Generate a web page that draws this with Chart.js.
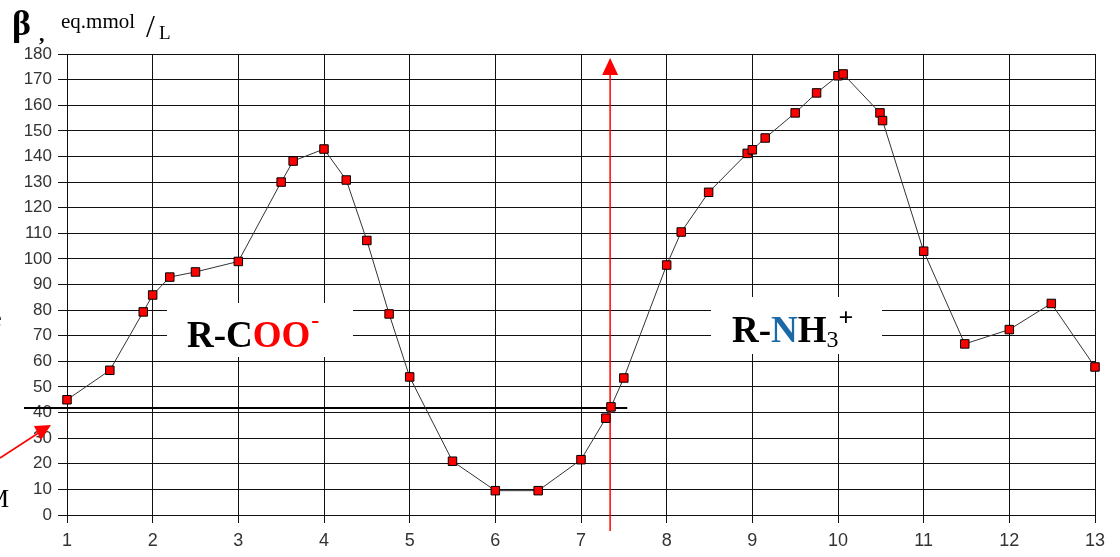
<!DOCTYPE html>
<html>
<head>
<meta charset="utf-8">
<script src="https://cdn.jsdelivr.net/npm/chart.js@4.4.0/dist/chart.umd.min.js"></script>
<style>
  html, body { margin: 0; padding: 0; background: #fff; }
  #c { display: block; }
</style>
</head>
<body>
<canvas id="c" width="1120" height="557"></canvas>
<script>
// datos (pH vs beta)
var phValues = [1, 1.5, 1.89, 2, 2.2, 2.5, 3, 3.5, 3.64, 4, 4.26, 4.5, 4.76, 5, 5.5, 6, 6.5, 7, 7.29, 7.35, 7.5,
  8, 8.17, 8.49, 8.94, 9, 9.15, 9.5, 9.75, 10, 10.06, 10.49, 10.52, 11, 11.48, 12, 12.49, 13];
var betaValues = [45, 56.5, 79.3, 85.9, 92.9, 94.9, 99, 130, 138.2, 142.9, 130.8, 107.2, 78.5, 53.9, 21, 9.5, 9.5, 21.6, 37.8, 42.2, 53.5,
  97.6, 110.5, 126, 141.2, 142.6, 147.2, 157, 164.8, 171.5, 172.2, 157, 154, 103, 66.8, 72.4, 82.6, 57.8];
var xTicks = [1, 2, 3, 4, 5, 6, 7, 8, 9, 10, 11, 12, 13];
var yMax = 180;
var lineaHorizontal = 41.8;   // linea negra
var lineaRojaPh = 7.34;       // linea roja vertical

var puntos = [];
for (let i = 0; i < phValues.length; i++) {
  puntos.push({ x: phValues[i], y: betaValues[i] });
}

// plugin para los textos y flechas
var anotaciones = {
  id: 'anotaciones',
  beforeDatasetsDraw: function (chart) {
    var ctx = chart.ctx;
    var xs = chart.scales.x, ys = chart.scales.y;
    ctx.save();

    // linea negra horizontal
    var yh = ys.getPixelForValue(lineaHorizontal);
    ctx.strokeStyle = '#000';
    ctx.lineWidth = 2;
    ctx.beginPath();
    ctx.moveTo(24, yh);
    ctx.lineTo(xs.getPixelForValue(7.54), yh);
    ctx.stroke();

    // linea roja vertical con flecha
    var xr = xs.getPixelForValue(lineaRojaPh);
    ctx.strokeStyle = '#ff0000';
    ctx.lineWidth = 1.5;
    ctx.beginPath();
    ctx.moveTo(xr, 531);
    ctx.lineTo(xr, 72);
    ctx.stroke();
    ctx.fillStyle = '#ff0000';
    ctx.beginPath();
    ctx.moveTo(xr, 58);
    ctx.lineTo(xr - 8, 75);
    ctx.lineTo(xr + 8, 75);
    ctx.closePath();
    ctx.fill();

    // flecha roja a la izquierda
    ctx.beginPath();
    ctx.moveTo(0, 458);
    ctx.lineTo(40, 432);
    ctx.stroke();
    ctx.beginPath();
    ctx.moveTo(51, 425);
    ctx.lineTo(34, 426);
    ctx.lineTo(41, 440);
    ctx.closePath();
    ctx.fill();

    // textos cortados a la izquierda
    ctx.fillStyle = '#000';
    ctx.font = '26px "Liberation Serif"';
    ctx.textBaseline = 'alphabetic';
    ctx.fillText('M', -14, 507);
    ctx.font = '24px "Liberation Serif"';
    ctx.fillText('e', -9, 326);

    // caja R-COO-
    ctx.fillStyle = '#fff';
    ctx.fillRect(167, 303, 186, 54);
    ctx.font = 'bold 37px "Liberation Serif"';
    var x = 187, b = 347;
    ctx.fillStyle = '#000';
    ctx.fillText('R-C', x, b);
    x += ctx.measureText('R-C').width;
    ctx.fillStyle = '#ff0000';
    ctx.fillText('OO', x, b);
    x += ctx.measureText('OO').width;
    ctx.font = 'bold 24px "Liberation Serif"';
    ctx.fillText('-', x + 1, b - 19);

    // caja R-NH3+
    ctx.fillStyle = '#fff';
    ctx.fillRect(711, 297, 171, 57);
    ctx.font = 'bold 37px "Liberation Serif"';
    x = 732; b = 342;
    ctx.fillStyle = '#000';
    ctx.fillText('R-', x, b);
    x += ctx.measureText('R-').width;
    ctx.fillStyle = '#1a6aa8';
    ctx.fillText('N', x, b);
    x += ctx.measureText('N').width;
    ctx.fillStyle = '#000';
    ctx.fillText('H', x, b);
    x += ctx.measureText('H').width;
    ctx.font = '24px "Liberation Serif"';
    ctx.fillText('3', x, b + 5);
    x += ctx.measureText('3').width;
    ctx.font = 'bold 26px "Liberation Serif"';
    ctx.fillText('+', x, b - 16);

    // titulo del eje y
    ctx.fillStyle = '#000';
    ctx.font = 'bold 36px "Liberation Serif"';
    ctx.fillText('\u03B2', 12, 35);
    ctx.font = 'bold 22px "Liberation Serif"';
    ctx.fillText(',', 39, 41);
    ctx.font = '21px "Liberation Serif"';
    ctx.fillText('eq.mmol', 61, 28);
    ctx.font = '32px "Liberation Serif"';
    ctx.fillText('/', 146, 37);
    ctx.font = '19px "Liberation Serif"';
    ctx.fillText('L', 159, 39);

    ctx.restore();
  }
};

var ctx1 = document.getElementById('c').getContext('2d');
var grafica = new Chart(ctx1, {
  type: 'scatter',
  data: {
    datasets: [{
      data: puntos,
      showLine: true,
      borderColor: '#333',
      borderWidth: 1,
      pointStyle: 'rect',
      pointRadius: 6,
      pointHoverRadius: 6,
      pointBackgroundColor: '#ff0000',
      pointBorderColor: '#000',
      pointBorderWidth: 1,
      clip: { left: 6, right: 6, top: 6, bottom: 0 }
    }]
  },
  options: {
    responsive: false,
    animation: false,
    events: [],
    layout: { padding: { top: 54, right: 25, left: 0, bottom: 0 } },
    plugins: { legend: { display: false }, tooltip: { enabled: false } },
    scales: {
      x: {
        type: 'linear',
        min: 1,
        max: 13,
        afterBuildTicks: function (axis) { axis.ticks = xTicks.map(v => ({ value: v })); },
        afterFit: function (axis) { axis.height = 42; },
        grid: { color: '#111', lineWidth: 1, tickLength: 8, drawTicks: true },
        border: { color: '#111', width: 1 },
        ticks: { color: '#333', font: { family: '"Liberation Sans", Arial', size: 18 }, padding: 7, maxRotation: 0 }
      },
      y: {
        min: 0,
        max: yMax,
        afterFit: function (axis) { axis.width = 67; },
        grid: { color: '#111', lineWidth: 1, tickLength: 9 },
        border: { color: '#111', width: 1 },
        ticks: { stepSize: 10, color: '#333', font: { family: '"Liberation Sans", Arial', size: 17 }, padding: 6 }
      }
    }
  },
  plugins: [anotaciones]
});
</script>
</body>
</html>
